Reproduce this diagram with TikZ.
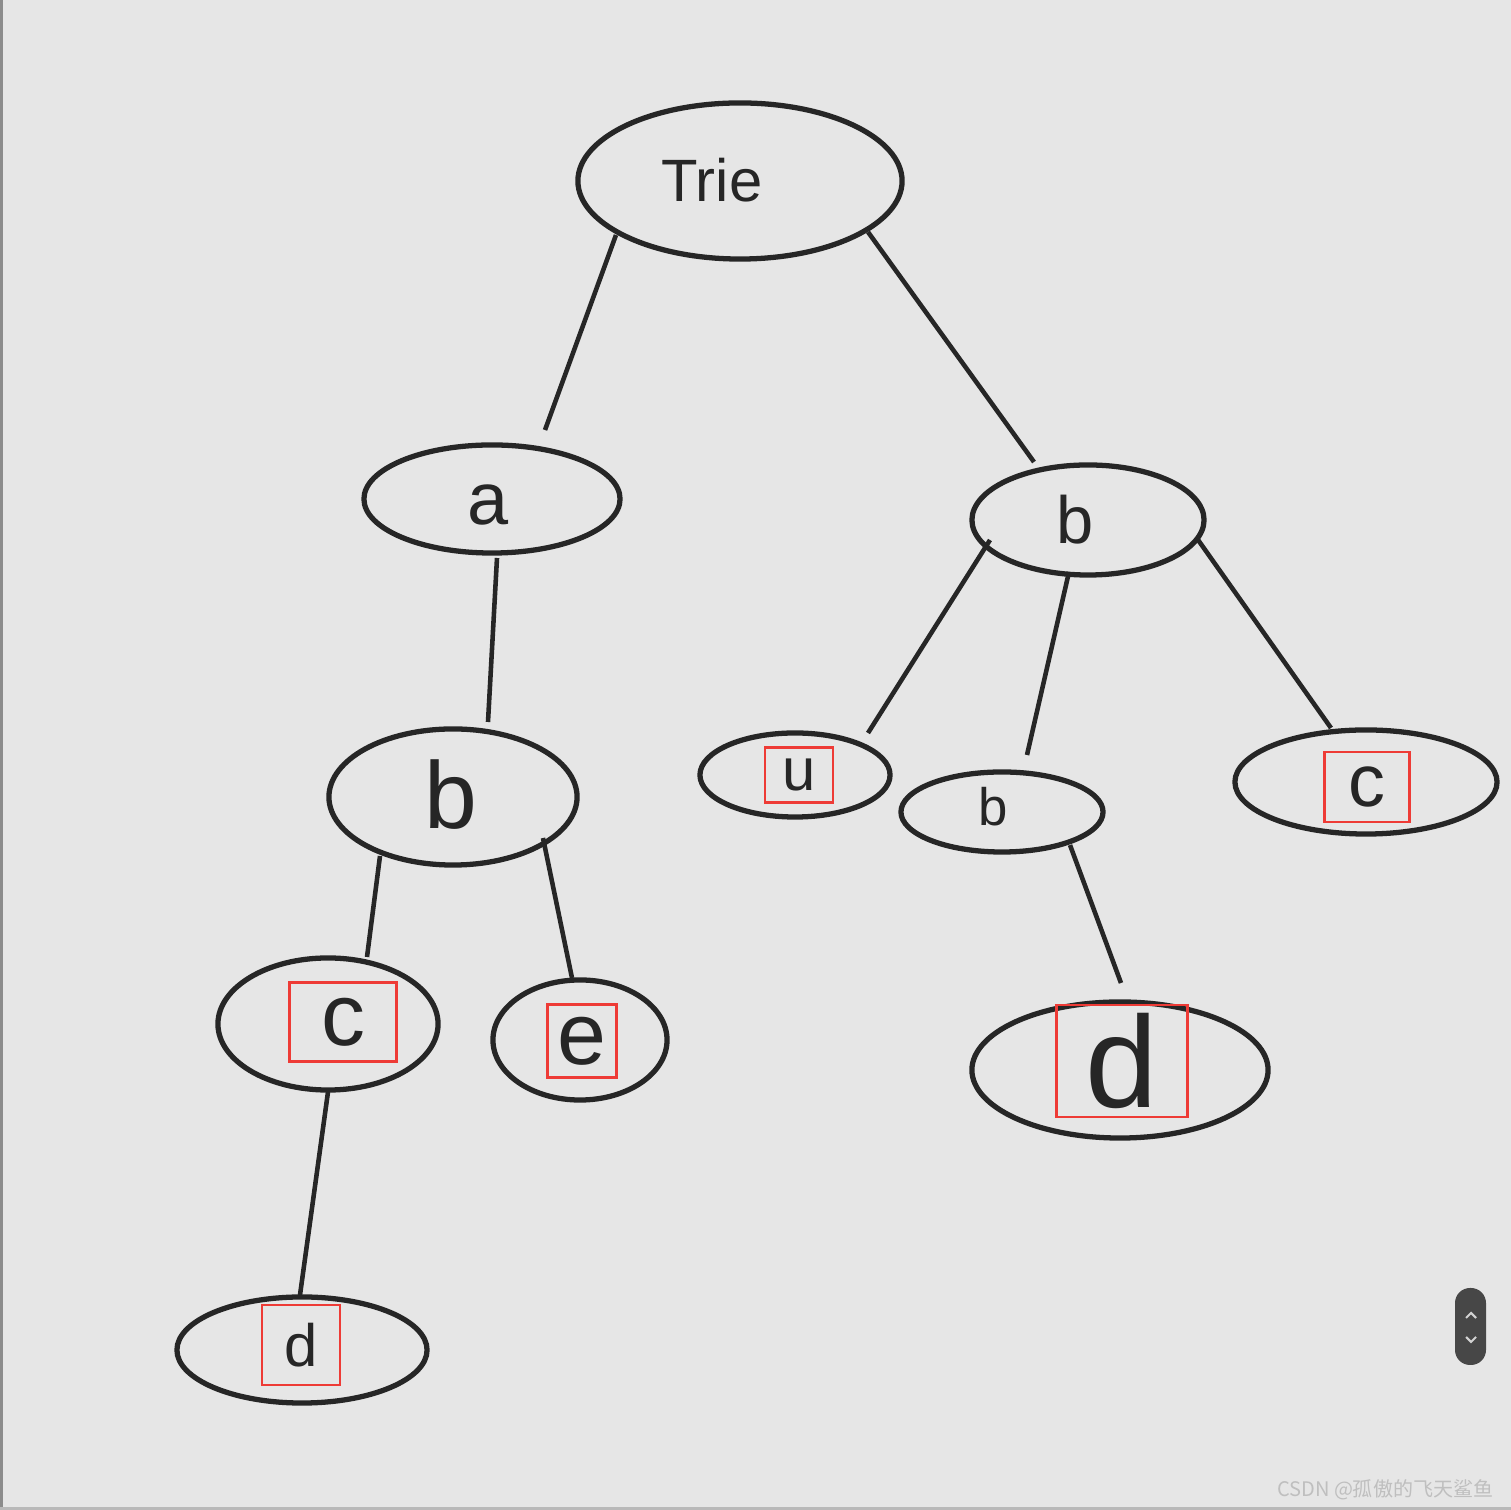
\documentclass[tikz,border=0pt]{standalone}
\usepackage{fontspec}
\setmainfont{Liberation Sans}
\newfontfamily\cjk{Noto Sans CJK SC}
\usetikzlibrary{shapes.geometric,calc}
\definecolor{bg}{HTML}{E6E6E6}
\definecolor{ink}{HTML}{262626}
\definecolor{redink}{HTML}{EE3B36}
\definecolor{edgegray}{HTML}{8C8C8C}
\definecolor{scrollc}{HTML}{474747}
\newcommand{\myfs}[1]{\fontsize{#1}{#1}\selectfont}
\begin{document}
\begin{tikzpicture}[x=0.01cm,y=-0.01cm,
  ell/.style={ellipse, draw=ink, line width=1.5pt, inner sep=0pt},
  lbl/.style={inner sep=0pt, text=ink},
  redbox/.style={lbl, draw=redink, line width=0.8pt},
  edge/.style={draw=ink, line width=1.3pt}]
\useasboundingbox (0,0) rectangle (1511,1510);
\fill[bg] (0,0) rectangle (1511,1510);
\fill[edgegray] (0,0) rectangle (3,1510);
\fill[gray!55] (0,1507) rectangle (1511,1510);

% ellipses
\node[ell, minimum width=3.24cm, minimum height=1.56cm] (trie) at (740,181) {};
\node[ell, minimum width=2.56cm, minimum height=1.08cm] (a) at (492,499) {};
\node[ell, minimum width=2.32cm, minimum height=1.10cm] (bR) at (1088,520) {};
\node[ell, minimum width=2.48cm, minimum height=1.36cm] (bL) at (453,797) {};
\node[ell, minimum width=1.90cm, minimum height=0.84cm] (u) at (795,775) {};
\node[ell, minimum width=2.02cm, minimum height=0.80cm] (bs) at (1002,812) {};
\node[ell, minimum width=2.62cm, minimum height=1.04cm] (cR) at (1366,782) {};
\node[ell, minimum width=2.20cm, minimum height=1.32cm] (cL) at (328,1024) {};
\node[ell, minimum width=1.74cm, minimum height=1.20cm] (e) at (580,1040) {};
\node[ell, minimum width=2.96cm, minimum height=1.36cm] (dR) at (1120,1070) {};
\node[ell, minimum width=2.50cm, minimum height=1.06cm] (dL) at (302,1350) {};

% labels
\node[lbl, font=\myfs{17pt}] (trieT) at (712,180) {Trie};
\node[lbl, font=\myfs{21pt}] (aT) at (488,505) {a};
\node[lbl, font=\myfs{19pt}] (bRT) at (1075,520) {b};
\node[lbl, font=\myfs{27pt}] (bLT) at (451,795) {b};
\node[lbl, font=\myfs{15pt}] (bsT) at (993,807) {b};
\node[redbox, font=\myfs{17pt}, minimum width=0.68cm, minimum height=0.55cm] (uT) at (799,775) {u};
\node[redbox, font=\myfs{21pt}, minimum width=0.85cm, minimum height=0.70cm] (cRT) at (1367,787) {c};
\node[redbox, font=\myfs{25pt}, minimum width=1.07cm, minimum height=0.79cm] (cLT) at (343,1022) {c};
\node[redbox, font=\myfs{25pt}, minimum width=0.69cm, minimum height=0.73cm] (eT) at (582,1041) {e};
\node[redbox, font=\myfs{37pt}, minimum width=1.31cm, minimum height=1.12cm] (dRT) at (1122,1061) {d};
\node[redbox, font=\myfs{17pt}, minimum width=0.78cm, minimum height=0.80cm] (dLT) at (301,1345) {d};

% connectors
\draw[edge] ($(trie)+(-124,54)$) -- ($(a)+(53,-69)$);
\draw[edge] ($(trie)+(128,51)$) -- ($(bR)+(-54,-58)$);
\draw[edge] ($(a)+(5,59)$) -- ($(bL)+(35,-75)$);
\draw[edge] ($(bR)+(-98,20)$) -- ($(u)+(73,-42)$);
\draw[edge] ($(bR)+(-19,52)$) -- ($(bs)+(25,-57)$);
\draw[edge] ($(bR)+(108,17)$) -- ($(cR)+(-35,-54)$);
\draw[edge] ($(bL)+(-73,59)$) -- ($(cL)+(39,-67)$);
\draw[edge] ($(bL)+(90,41)$) -- ($(e)+(-8,-62)$);
\draw[edge] ($(cL)+(0,68)$) -- ($(dL)+(-2,-55)$);
\draw[edge] ($(bs)+(68,33)$) -- ($(dR)+(1,-87)$);

% scroll widget
\fill[scrollc, rounded corners=0.15cm] (1455,1288) rectangle (1486,1365);
\draw[gray!35, line width=0.6pt] (1466,1318) -- (1471,1313) -- (1476,1318);
\draw[gray!35, line width=0.6pt] (1466,1337) -- (1471,1342) -- (1476,1337);

% watermark
\node[inner sep=0pt, anchor=east, text=gray!50, font=\cjk\myfs{5.7pt}] (wm) at (1494,1490) {CSDN @孤傲的飞天鲨鱼};
\end{tikzpicture}
\end{document}
